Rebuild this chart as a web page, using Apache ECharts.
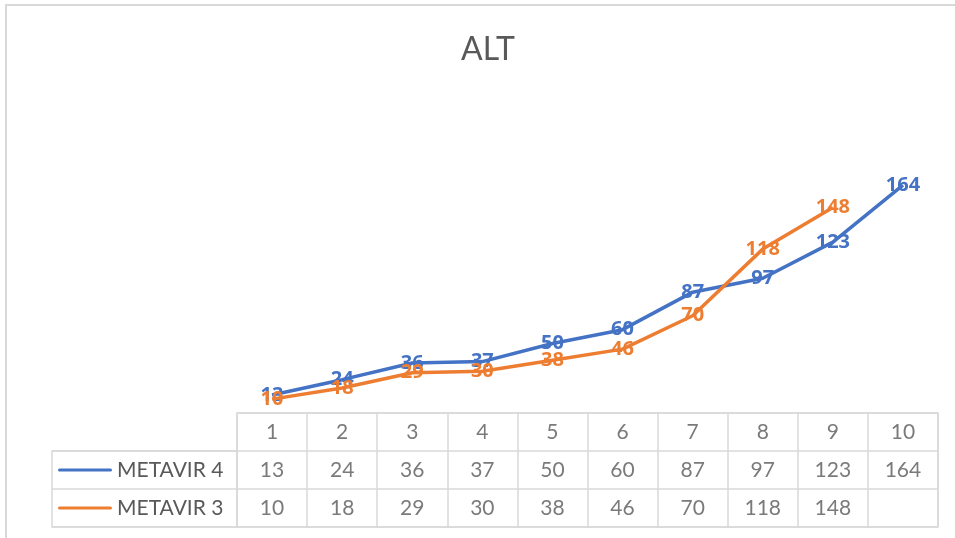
<!DOCTYPE html>
<html>
<head>
<meta charset="utf-8">
<script src="https://cdn.jsdelivr.net/npm/echarts@6/dist/echarts.min.js"></script>
<style>
html,body{margin:0;padding:0;background:#fff;}
#wrap{position:relative;width:955px;height:538px;overflow:hidden;}
#chart{width:955px;height:538px;}
#frame{position:absolute;left:5px;top:4px;width:1000px;height:600px;border-left:2px solid #d9d9d9;border-top:2px solid #d9d9d9;pointer-events:none;}
</style>
</head>
<body>
<div id="wrap"><div id="chart"></div><div id="frame"></div></div>
<script>
const categories = ['1','2','3','4','5','6','7','8','9','10'];
const metavir4 = [13, 24, 36, 37, 50, 60, 87, 97, 123, 164];
const metavir3 = [10, 18, 29, 30, 38, 46, 70, 118, 148, null];
const seriesNames = ['METAVIR 4', 'METAVIR 3'];
const colors = ['#4472C4', '#ED7D31'];

const FONT = 'Lato';
const LABEL_FONT = 'Open Sans';
const TXT = '#595959';
const BORDER = '#d9d9d9';

const tableCells = [];
categories.forEach((c, i) => tableCells.push([i, 0, c]));
metavir4.forEach((v, i) => { if (v != null) tableCells.push([i, 1, v]); });
metavir3.forEach((v, i) => { if (v != null) tableCells.push([i, 2, v]); });

function lineSeries(idx, data, z) {
  return {
    name: seriesNames[idx], type: 'line', xAxisIndex: 0, yAxisIndex: 0, data: data,
    showSymbol: true, symbol: 'circle', symbolSize: 0,
    lineStyle: { color: colors[idx], width: 3.5 }, itemStyle: { color: colors[idx] },
    label: { show: true, position: 'inside', color: colors[idx], fontFamily: LABEL_FONT, fontWeight: 'bold', fontSize: 20 },
    z: z
  };
}

const chart = echarts.init(document.getElementById('chart'));
chart.setOption({
  animation: false,
  backgroundColor: 'transparent',
  title: {
    text: 'ALT', left: 456, top: 29,
    textStyle: { fontFamily: FONT, fontSize: 32, fontWeight: 'normal', color: TXT }
  },
  grid: [
    { left: 237, right: 17, top: 163, bottom: 125 },
    { left: 237, right: 17, top: 413, height: 114, show: true, borderColor: BORDER, borderWidth: 1.5, backgroundColor: '#fff' },
    { left: 52, width: 185, top: 451, height: 76, show: true, borderColor: BORDER, borderWidth: 1.5, backgroundColor: '#fff' }
  ],
  xAxis: [
    { type: 'category', gridIndex: 0, data: categories, boundaryGap: true, show: false },
    { type: 'category', gridIndex: 1, data: categories, boundaryGap: true,
      axisLine: { show: false }, axisTick: { show: false }, axisLabel: { show: false },
      splitLine: { show: true, interval: 0, lineStyle: { color: BORDER, width: 1.5 } } },
    { type: 'category', gridIndex: 2, data: [''], boundaryGap: true,
      axisLine: { show: false }, axisTick: { show: false }, axisLabel: { show: false }, splitLine: { show: false } }
  ],
  yAxis: [
    { type: 'value', gridIndex: 0, min: 0, max: 180, interval: 20, show: false },
    { type: 'category', gridIndex: 1, data: ['h', 'a', 'b'], inverse: true,
      axisLine: { show: false }, axisTick: { show: false }, axisLabel: { show: false },
      splitLine: { show: true, interval: 0, lineStyle: { color: BORDER, width: 1.5 } } },
    { type: 'category', gridIndex: 2, data: seriesNames, inverse: true,
      axisLine: { show: false }, axisTick: { show: false },
      splitLine: { show: true, interval: 0, lineStyle: { color: BORDER, width: 1.5 } },
      axisLabel: {
        inside: true, margin: 6, align: 'left',
        formatter: (v, i) => '{l' + i + '|}{t|' + v + '}',
        rich: {
          l0: { width: 54, height: 3, backgroundColor: colors[0], borderRadius: 2 },
          l1: { width: 54, height: 3, backgroundColor: colors[1], borderRadius: 2 },
          t: { fontFamily: FONT, fontSize: 21, color: TXT, padding: [0, 0, 0, 5] }
        }
      } }
  ],
  series: [
    lineSeries(0, metavir4, 3),
    lineSeries(1, metavir3, 4),
    { type: 'scatter', xAxisIndex: 1, yAxisIndex: 1, data: tableCells, symbolSize: 0, silent: true,
      label: { show: true, position: 'inside', formatter: p => String(p.value[2]), color: TXT, fontFamily: FONT, fontSize: 21 } }
  ]
});
</script>
</body>
</html>
